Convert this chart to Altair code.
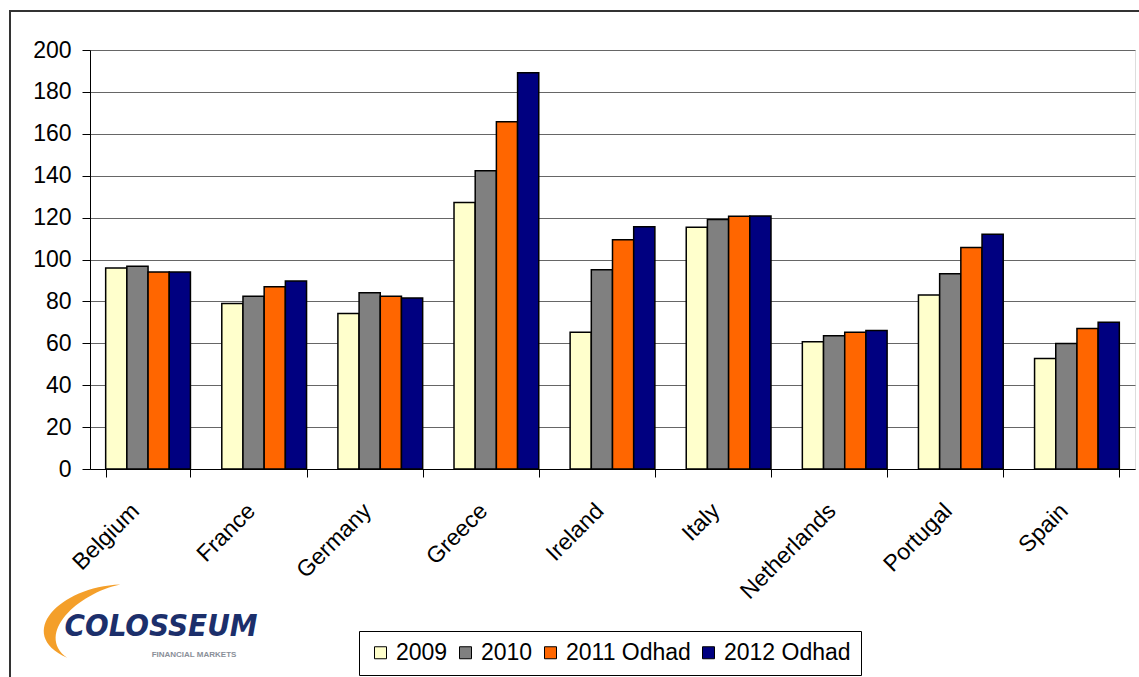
import altair as alt
import pandas as pd

countries = ["Belgium", "France", "Germany", "Greece", "Ireland", "Italy", "Netherlands", "Portugal", "Spain"]
years = ["2009", "2010", "2011 Odhad", "2012 Odhad"]
v2009 = [96, 79, 74.2, 127.2, 65.3, 115.4, 60.7, 83.1, 52.8]
v2010 = [96.8, 82.4, 84.1, 142.4, 95.1, 119.1, 63.6, 93.2, 59.9]
v2011 = [94, 87, 82.4, 165.8, 109.4, 120.7, 65.3, 105.7, 67.1]
v2012 = [94, 89.7, 81.6, 189.2, 115.6, 120.8, 66.1, 112.1, 70.0]
colors = ["#FFFFCC", "#808080", "#FF6600", "#000080"]

rows = []
for y, vals in zip(years, [v2009, v2010, v2011, v2012]):
    for c, v in zip(countries, vals):
        rows.append({"Country": c, "Year": y, "Value": v})
df = pd.DataFrame(rows)

FONT = "Arial, Liberation Sans, sans-serif"
W, H = 1045, 419

bars = alt.Chart(df).mark_bar(stroke="black", strokeWidth=1.5).encode(
    x=alt.X("Country:N", sort=countries, title=None,
            scale=alt.Scale(paddingInner=0.27, paddingOuter=0.135),
            axis=alt.Axis(labelAngle=-45, labelAlign="right", labelBaseline="middle",
                          labelFontSize=23, labelFont=FONT, labelColor="black",
                          labelPadding=30, labelOffset=-13, tickBand="extent", tickSize=8,
                          tickColor="black", domainColor="black", grid=False)),
    xOffset=alt.XOffset("Year:N", sort=years),
    y=alt.Y("Value:Q", title=None,
            scale=alt.Scale(domain=[0, 200], nice=False),
            axis=alt.Axis(values=list(range(0, 201, 20)), labelFontSize=23, labelFont=FONT,
                          labelColor="black", tickSize=8, tickColor="black",
                          domainColor="black", gridColor="#666666", gridWidth=1.2,
                          labelPadding=11)),
    color=alt.Color("Year:N", sort=years, title=None,
                    scale=alt.Scale(domain=years, range=colors),
                    legend=alt.Legend(orient="none", legendX=269, legendY=581,
                                      direction="horizontal", strokeColor="black",
                                      fillColor="white", padding=10, symbolType="square",
                                      symbolSize=144, symbolStrokeColor="black",
                                      symbolStrokeWidth=1, labelFontSize=23, labelFont=FONT,
                                      labelColor="black", columnPadding=6, labelOffset=4)),
)

one = alt.Data(values=[{"a": 1}])

frame = alt.Chart(one).mark_rect(fill=None, stroke="#333333", strokeWidth=2).encode(
    x=alt.value(-80), y=alt.value(-39), x2=alt.value(W + 20), y2=alt.value(H + 250)
)

swoosh_path = ("M 0.45 -0.9 C -0.9 -0.85 -1.9 0.2 -0.73 0.73 "
               "C -1.45 0.2 -0.5 -0.7 0.45 -0.9 Z")
swoosh = alt.Chart(one).mark_point(shape=swoosh_path, size=8100, filled=True,
                                   color="#F39A1F", opacity=0.95, strokeWidth=0).encode(
    x=alt.value(10), y=alt.value(575)
)

logo = alt.Chart(one).mark_text(text="COLOSSEUM",
                                font="DejaVu Sans Condensed, Liberation Sans Narrow, " + FONT,
                                fontSize=31, fontWeight="bold", fontStyle="italic",
                                color="#1C2F6B", align="center", baseline="middle").encode(
    x=alt.value(71), y=alt.value(577)
)
logo2 = alt.Chart(one).mark_text(text="FINANCIAL MARKETS", font=FONT, fontSize=8,
                                 fontWeight="bold",
                                 color="#8A8F99", align="center", baseline="middle").encode(
    x=alt.value(104), y=alt.value(605)
)

chart = alt.layer(frame, swoosh, bars, logo, logo2).properties(
    width=W, height=H,
    padding={"left": 90, "top": 50, "right": 4, "bottom": 208},
    autosize=alt.AutoSizeParams(type="none"),
).configure_view(stroke="#999999", strokeWidth=1.5).configure(background="white")

chart.save("out.html", embed_options={"renderer": "svg", "actions": False})
